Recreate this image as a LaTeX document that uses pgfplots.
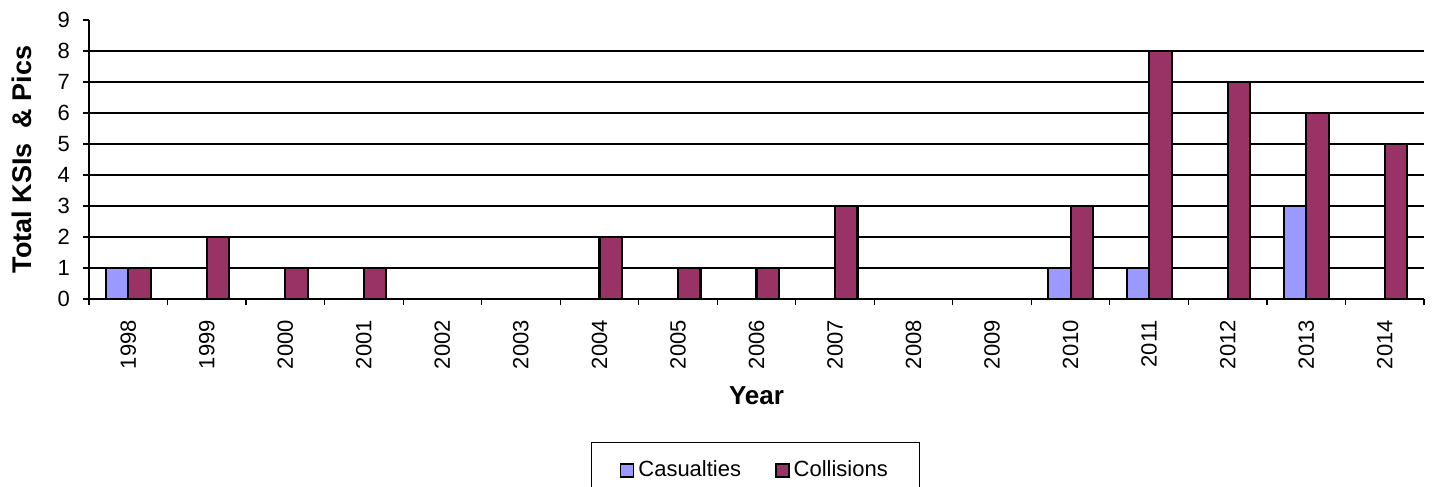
\documentclass[border=0pt]{standalone}
\usepackage{pgfplots}
\pgfplotsset{compat=1.18}
\usepackage{fontspec}
\setmainfont{Liberation Sans}
\definecolor{casual}{HTML}{9999FF}
\definecolor{collis}{HTML}{993366}
\begin{document}
\begin{tikzpicture}
\useasboundingbox (-44.5pt,-94pt) rectangle (673pt,149.5pt);
\begin{axis}[
    at={(0,0)}, anchor=south west,
    scale only axis,
    width=667.5pt, height=139.5pt,
    ybar=0pt, bar width=11.25pt,
    xmin=-0.5, xmax=16.5,
    ymin=0, ymax=9,
    axis lines*=left,
    axis line style={black, line width=0.6pt},
    xtick={0,...,16},
    xticklabels={1998,1999,2000,2001,2002,2003,2004,2005,2006,2007,2008,2009,2010,2011,2012,2013,2014},
    major x tick style={draw=none},
    minor xtick={-0.5,0.5,...,16.5},
    minor x tick style={black, line width=0.6pt},
    x tick label style={rotate=90, anchor=east, font=\fontsize{11}{13}\selectfont},
    xticklabel shift=4pt,
    ytick={0,...,9},
    y tick style={black, line width=0.6pt},
    y tick label style={font=\fontsize{11}{13}\selectfont},
    yticklabel shift=3pt,
    tick align=outside,
    major tick length=3pt, minor tick length=3pt,
    extra y ticks={1,...,8},
    extra y tick labels={},
    extra y tick style={grid=major, major tick length=0pt},
    grid style={black, line width=0.6pt},
    /pgf/number format/assume math mode=true,
    xlabel={\fontsize{13}{15}\selectfont\bfseries Year},
    xlabel style={at={(axis description cs:0.5,0)}, anchor=center, yshift=-48.5pt},
    ylabel={\fontsize{13.5}{15}\selectfont\bfseries Total KSIs\ \ \& Pics},
    ylabel style={at={(axis description cs:-0.0502,0.5)}, anchor=center},
    legend columns=2,
    legend style={at={(axis description cs:0.4995,-0.514)}, anchor=north, draw=black, line width=0.5pt,
        inner xsep=14pt, inner ysep=7pt,
        font=\fontsize{11}{13}\selectfont,
        /tikz/every even column/.append style={column sep=15pt}},
    legend image code/.code={\draw[#1, line width=0.8pt] (0pt,-3.25pt) rectangle (6.5pt,3.25pt);},
]
\addplot[fill=casual, draw=black, line width=1.1pt] coordinates {(0,1) (12,1) (13,1) (15,3)};
\addlegendentry{Casualties}
\addplot[fill=collis, draw=black, line width=1.1pt] coordinates {(0,1) (1,2) (2,1) (3,1) (6,2) (7,1) (8,1) (9,3) (12,3) (13,8) (14,7) (15,6) (16,5)};
\addlegendentry{Collisions}
\end{axis}
\end{tikzpicture}
\end{document}
